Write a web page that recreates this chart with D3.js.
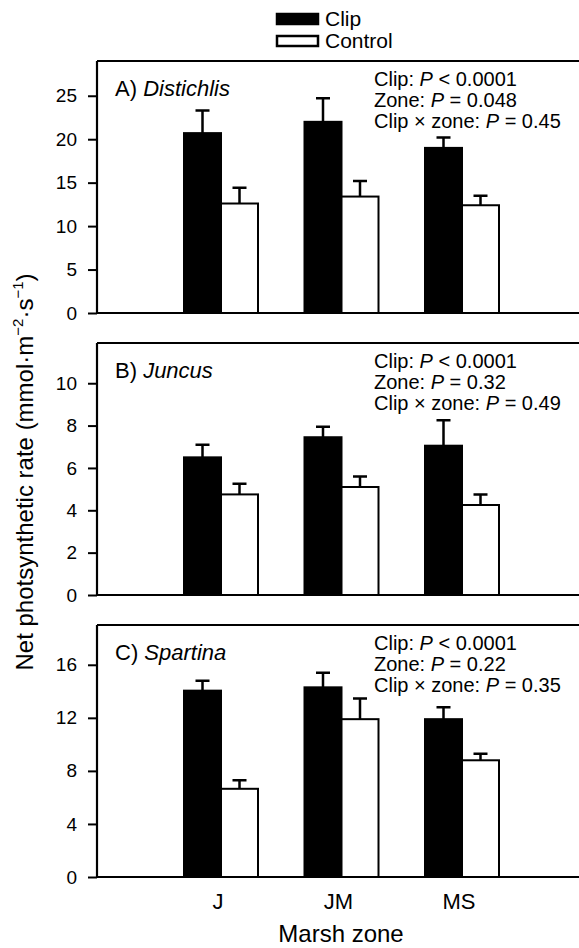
<!DOCTYPE html>
<html>
<head>
<meta charset="utf-8">
<script src="https://cdn.jsdelivr.net/npm/d3@7"></script>
<style>
  body { margin: 0; background: #fff; }
  text { font-family: "Liberation Sans", Arial, Helvetica, sans-serif; fill: #000; }
</style>
</head>
<body>
<svg id="chart" width="579" height="948"></svg>
<script>
// marsh zones along the x axis
var zones = ["J", "JM", "MS"];
var treatments = ["Clip", "Control"];

// panel A) Distichlis
var distichlisClip = [20.7, 22.0, 19.0];
var distichlisClipSE = [2.6, 2.7, 1.2];
var distichlisControl = [12.6, 13.4, 12.4];
var distichlisControlSE = [1.8, 1.8, 1.1];

// panel B) Juncus
var juncusClip = [6.5, 7.45, 7.05];
var juncusClipSE = [0.6, 0.5, 1.2];
var juncusControl = [4.75, 5.1, 4.25];
var juncusControlSE = [0.5, 0.5, 0.5];

// panel C) Spartina
var spartinaClip = [14.05, 14.3, 11.9];
var spartinaClipSE = [0.75, 1.1, 0.9];
var spartinaControl = [6.65, 11.9, 8.8];
var spartinaControlSE = [0.65, 1.55, 0.5];

// axis maxima and ticks per panel
var yMax = [29, 11.9, 19];
var yTicks = [[0, 5, 10, 15, 20, 25], [0, 2, 4, 6, 8, 10], [0, 4, 8, 12, 16]];

// ANOVA results shown in each panel
var statClip = ["< 0.0001", "< 0.0001", "< 0.0001"];
var statZone = ["= 0.048", "= 0.32", "= 0.22"];
var statInter = ["= 0.45", "= 0.49", "= 0.35"];

var panelLetters = ["A)", "B)", "C)"];
var species = ["Distichlis", "Juncus", "Spartina"];

var panels = [
    {clip: distichlisClip, clipSE: distichlisClipSE, ctrl: distichlisControl, ctrlSE: distichlisControlSE},
    {clip: juncusClip, clipSE: juncusClipSE, ctrl: juncusControl, ctrlSE: juncusControlSE},
    {clip: spartinaClip, clipSE: spartinaClipSE, ctrl: spartinaControl, ctrlSE: spartinaControlSE}
];

var svg = d3.select("#chart");

var left = 97, right = 579;
var panelTop = [61, 343, 625];
var panelH = 252;
var barW = 37;
var capW = 14;

var x = d3.scalePoint()
    .domain(zones)
    .range([221, 462]);

panels.forEach(function(p, i) {

    var top = panelTop[i], bottom = top + panelH;

    var y = d3.scaleLinear()
        .domain([0, yMax[i]])
        .range([bottom, top]);

    var g = svg.append("g");

    // frame: top and bottom lines, left axis
    g.append("line")
        .attr("x1", left).attr("x2", right)
        .attr("y1", top).attr("y2", top)
        .style("stroke", "#000").style("stroke-width", 2.2);

    g.append("line")
        .attr("x1", left).attr("x2", right)
        .attr("y1", bottom).attr("y2", bottom)
        .style("stroke", "#000").style("stroke-width", 2.2);

    var axis = d3.axisLeft(y)
        .tickValues(yTicks[i])
        .tickSize(9)
        .tickPadding(11)
        .tickSizeOuter(0);

    var ag = g.append("g")
        .attr("transform", "translate(" + left + ",0)")
        .call(axis);
    ag.select(".domain").attr("d", "M0," + top + "V" + bottom).style("stroke-width", 2.2);
    ag.selectAll(".tick line").style("stroke-width", 2);
    ag.selectAll(".tick text")
        .style("font-size", "19px")
        .style("font-family", "'Liberation Sans', Arial, sans-serif")
        .attr("fill", "#000");

    // bars
    var rows = zones.map(function(z, k) {
        return [
            {zone: z, t: "Clip", v: p.clip[k], se: p.clipSE[k], off: -barW},
            {zone: z, t: "Control", v: p.ctrl[k], se: p.ctrlSE[k], off: 0}
        ];
    });
    rows = [].concat.apply([], rows);

    // error bars first so the bar edge covers their foot
    g.selectAll(".err")
        .data(rows)
        .enter()
        .append("path")
        .attr("d", function(d) {
            var cx = x(d.zone) + d.off + barW / 2;
            return "M" + cx + "," + y(d.v) + "V" + y(d.v + d.se) +
                "M" + (cx - capW / 2) + "," + y(d.v + d.se) + "H" + (cx + capW / 2);
        })
        .style("stroke", "#000")
        .style("stroke-width", 2.5)
        .style("fill", "none");

    g.selectAll(".bar")
        .data(rows)
        .enter()
        .append("rect")
        .attr("x", function(d) { return x(d.zone) + d.off; })
        .attr("y", function(d) { return y(d.v); })
        .attr("width", barW)
        .attr("height", function(d) { return bottom - y(d.v); })
        .style("fill", function(d) { return d.t == "Clip" ? "#000" : "#fff"; })
        .style("stroke", "#000")
        .style("stroke-width", 2);

    // panel label
    var lab = g.append("text")
        .attr("x", 115)
        .attr("y", top + 35)
        .style("font-size", "22px");
    lab.append("tspan").text(panelLetters[i] + " ");
    lab.append("tspan").style("font-style", "italic").text(species[i]);

    // stats
    var lines = [["Clip: ", statClip[i]], ["Zone: ", statZone[i]], ["Clip \u00d7 zone: ", statInter[i]]];
    lines.forEach(function(l, j) {
        var t = g.append("text")
            .attr("x", 374)
            .attr("y", top + 25 + j * 20.8)
            .style("font-size", "20px");
        t.append("tspan").text(l[0]);
        t.append("tspan").style("font-style", "italic").text("P");
        t.append("tspan").text(" " + l[1]);
    });
});

// x axis category labels under the last panel
svg.selectAll(".xlab")
    .data(zones)
    .enter()
    .append("text")
    .attr("x", function(d) { return x(d) - 3; })
    .attr("y", 909)
    .attr("text-anchor", "middle")
    .style("font-size", "22px")
    .text(function(d) { return d; });

svg.append("text")
    .attr("x", 341)
    .attr("y", 942)
    .attr("text-anchor", "middle")
    .style("font-size", "24px")
    .text("Marsh zone");

// y axis title
var yt = svg.append("text")
    .attr("transform", "translate(33,472) rotate(-90)")
    .attr("text-anchor", "middle")
    .style("font-size", "24px");
yt.append("tspan").text("Net photsynthetic rate (mmol\u00b7m");
yt.append("tspan").attr("dy", -10).style("font-size", "15px").text("\u22122");
yt.append("tspan").attr("dy", 10).text("\u00b7s");
yt.append("tspan").attr("dy", -10).style("font-size", "15px").text("\u22121");
yt.append("tspan").attr("dy", 10).text(")");

// legend
var legend = svg.append("g");
treatments.forEach(function(t, i) {
    legend.append("rect")
        .attr("x", 277)
        .attr("y", 14 + i * 22)
        .attr("width", 41)
        .attr("height", 10)
        .style("fill", t == "Clip" ? "#000" : "#fff")
        .style("stroke", "#000")
        .style("stroke-width", 2.5);
    legend.append("text")
        .attr("x", 325)
        .attr("y", 26 + i * 22)
        .style("font-size", "21px")
        .text(t);
});
</script>
</body>
</html>
